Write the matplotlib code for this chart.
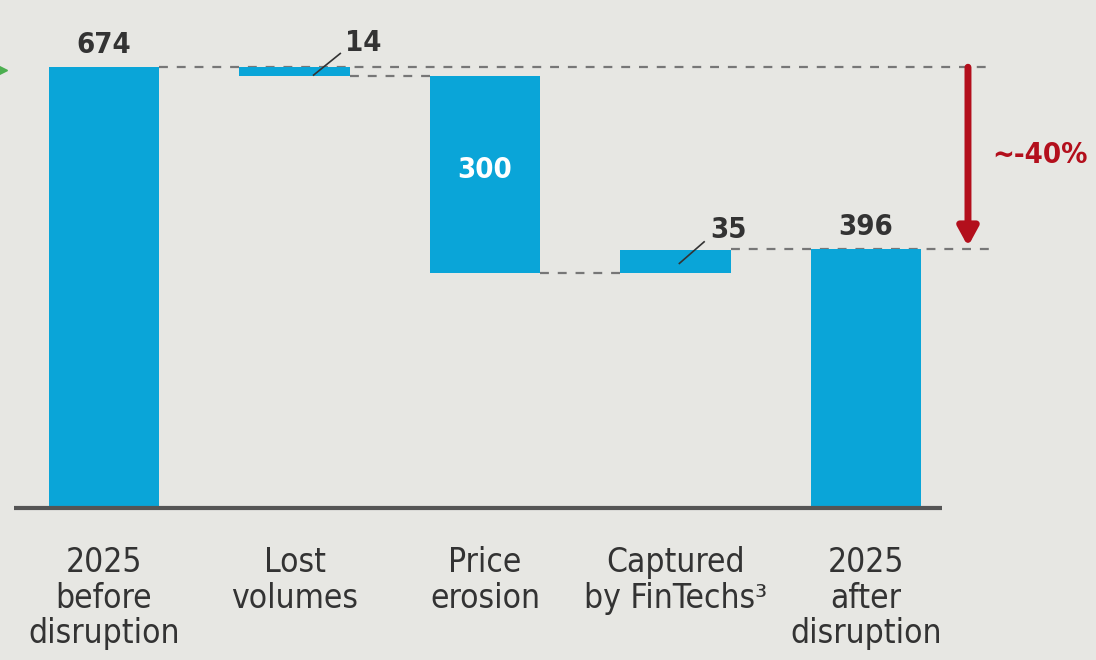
import numpy as np
import matplotlib.pyplot as plt
from matplotlib import font_manager

names = {f.name for f in font_manager.fontManager.ttflist}
narrow = [n for n in ["Liberation Sans Narrow", "DejaVu Sans"] if n in names]
plt.rcParams['font.family'] = narrow + ['DejaVu Sans']
plt.rcParams['font.stretch'] = 'condensed'

categories = ["2025\nbefore\ndisruption", "Lost\nvolumes", "Price\nerosion",
              "Captured\nby FinTechs³", "2025\nafter\ndisruption"]
start_total = 674
steps = [-14, -300, 35]
end_total = 396
labels = ["674", "14", "300", "35", "396"]

bar_col = "#0aa5d8"
bg = "#e7e7e3"
txt = "#333333"
red = "#b30f1c"

# bar bottoms / heights
levels = start_total + np.cumsum([0] + steps)
bottoms = [0]
heights = [start_total]
for i, s in enumerate(steps):
    bottoms.append(min(levels[i], levels[i + 1]))
    heights.append(abs(s))
bottoms.append(0)
heights.append(end_total)
x = np.arange(len(categories))

fig = plt.figure(figsize=(10.96, 6.6), dpi=100, facecolor=bg)
ax = fig.add_axes([0, 0, 1, 1])
ax.set_facecolor(bg)
ax.set_xlim(-0.546, 5.207)
ax.set_ylim(-232.4, 776.8)
ax.axis("off")

ax.bar(x, heights, bottom=bottoms, width=0.58, color=bar_col, zorder=2)
ax.plot([-0.47, 4.4], [0, 0], color="#555555", lw=3, zorder=3, solid_capstyle="butt")

# category labels
for xi, c in zip(x, categories):
    ax.text(xi, -58, c, ha="center", va="top", fontsize=24, color=txt, linespacing=1.1)

# connectors
dash = dict(color="#777777", lw=1.6, ls=(0, (4, 4)), zorder=1)
ax.plot([0.29, 4.65], [start_total, start_total], **dash)
ax.plot([1.29, 1.71], [levels[1], levels[1]], **dash)
ax.plot([2.29, 2.71], [levels[2], levels[2]], **dash)
ax.plot([3.29, 4.65], [end_total, end_total], **dash)

# value labels
ax.text(0, start_total + 12, labels[0], ha="center", va="bottom", fontsize=21,
        fontweight="bold", color=txt)
ax.plot([1.1, 1.24], [levels[1] + 2, 695], color=txt, lw=1.2, zorder=3)
ax.text(1.36, 690, labels[1], ha="center", va="bottom", fontsize=21,
        fontweight="bold", color=txt)
ax.text(2, 517, labels[2], ha="center", va="center", fontsize=21,
        fontweight="bold", color="white")
ax.plot([3.02, 3.15], [levels[2] + 14, levels[3] + 12], color=txt, lw=1.2, zorder=3)
ax.text(3.28, levels[3] + 8, labels[3], ha="center", va="bottom", fontsize=21,
        fontweight="bold", color=txt)
ax.text(4, end_total + 12, labels[4], ha="center", va="bottom", fontsize=21,
        fontweight="bold", color=txt)

# total change arrow
ax.annotate("", xy=(4.535, end_total + 4), xytext=(4.535, start_total),
            arrowprops=dict(arrowstyle="-|>,head_width=0.6,head_length=1.1",
                            color=red, lw=5, shrinkA=0, shrinkB=0), zorder=4)
pct = (end_total - start_total) / start_total * 100
ax.text(4.66, 540, "~%d%%" % round(pct, -1), ha="left", va="center", fontsize=21,
        fontweight="bold", color=red)

# partial green marker at left edge
ax.plot([-0.55], [670], marker=">", ms=12, color="#4caf50", clip_on=True)

fig.savefig("out.png", dpi=100, facecolor=bg)
